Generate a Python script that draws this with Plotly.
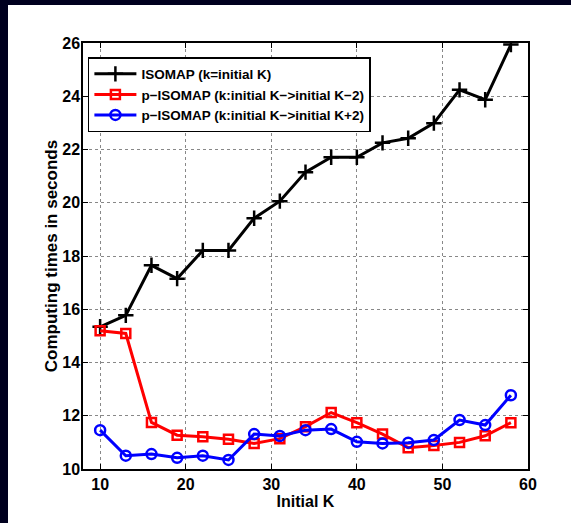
import plotly.graph_objects as go

k_values = [10, 13, 16, 19, 22, 25, 28, 31, 34, 37, 40, 43, 46, 49, 52, 55, 58]
isomap = [15.34, 15.77, 17.65, 17.15, 18.21, 18.21, 19.42, 20.06, 21.15, 21.71, 21.71,
          22.25, 22.42, 22.99, 24.24, 23.87, 25.94]
p_isomap_minus = [15.19, 15.09, 11.75, 11.27, 11.21, 11.12, 10.96, 11.14, 11.59, 12.12, 11.74,
                  11.31, 10.80, 10.88, 11.00, 11.25, 11.74]
p_isomap_plus = [11.46, 10.50, 10.56, 10.42, 10.50, 10.34, 11.31, 11.24, 11.46, 11.50, 11.02,
                 10.96, 10.99, 11.09, 11.84, 11.65, 12.77]
series_names = ["ISOMAP (k=initial K)",
                "p\u2212ISOMAP (k:initial K\u2212>initial K\u22122)",
                "p\u2212ISOMAP (k:initial K\u2212>initial K+2)"]
x_ticks = [10, 20, 30, 40, 50, 60]
y_ticks = [10, 12, 14, 16, 18, 20, 22, 24, 26]

FONT = "Liberation Sans Narrow, Arial Narrow, Liberation Sans, Arial, sans-serif"

fig = go.Figure()
fig.add_trace(go.Scatter(
    x=k_values, y=isomap, name=series_names[0], mode="lines+markers",
    line=dict(color="black", width=3),
    marker=dict(symbol="cross-thin", size=11, line=dict(color="black", width=2.5))))
fig.add_trace(go.Scatter(
    x=k_values, y=p_isomap_minus, name=series_names[1], mode="lines+markers",
    line=dict(color="#ff0000", width=3),
    marker=dict(symbol="square-open", size=9, color="#ff0000", line=dict(color="#ff0000", width=2.5))))
fig.add_trace(go.Scatter(
    x=k_values, y=p_isomap_plus, name=series_names[2], mode="lines+markers",
    line=dict(color="#0000ff", width=3),
    marker=dict(symbol="circle-open", size=10, color="#0000ff", line=dict(color="#0000ff", width=2.5))))

L, R, T, B = 83, 43, 43, 54
W, H = 571, 523
pw, ph = W - L - R, H - T - B

axis_common = dict(
    showline=True, linecolor="black", linewidth=1.5, mirror="ticks",
    ticks="inside", ticklen=5, tickwidth=1, tickcolor="black",
    showgrid=True, gridcolor="#888888", gridwidth=1, griddash="dot",
    zeroline=False,
    tickfont=dict(family=FONT, size=16, color="black", weight="bold"),
)

fig.update_layout(
    width=W, height=H,
    margin=dict(l=L, r=R, t=T, b=B),
    paper_bgcolor="white", plot_bgcolor="white",
    font=dict(family=FONT, color="black"),
    xaxis=dict(range=[8, 60], tickvals=x_ticks,
               title=dict(text="Initial K", standoff=4,
                          font=dict(family=FONT, size=16, weight="bold")),
               **axis_common),
    yaxis=dict(range=[10, 26], tickvals=y_ticks, ticklabelstandoff=-2,
               title=dict(text="Computing times in seconds", standoff=0,
                          font=dict(family=FONT, size=17, weight="bold")),
               **axis_common),
    legend=dict(x=0.011, y=0.967, xanchor="left", yanchor="top",
                bgcolor="white", bordercolor="black", borderwidth=1.5,
                font=dict(family=FONT, size=13.5, color="black", weight="bold"),
                tracegroupgap=0, itemwidth=42),
    showlegend=True,
    shapes=[
        dict(type="rect", xref="paper", yref="paper",
             x0=-L / pw, x1=(8 - L) / pw, y0=-B / ph, y1=1 + T / ph,
             fillcolor="#00001f", line=dict(width=0), layer="above"),
        dict(type="rect", xref="paper", yref="paper",
             x0=-L / pw, x1=1 + R / pw, y0=1 + (T - 5) / ph, y1=1 + T / ph,
             fillcolor="#00001f", line=dict(width=0), layer="above"),
    ],
)

fig.write_html("out.html")
